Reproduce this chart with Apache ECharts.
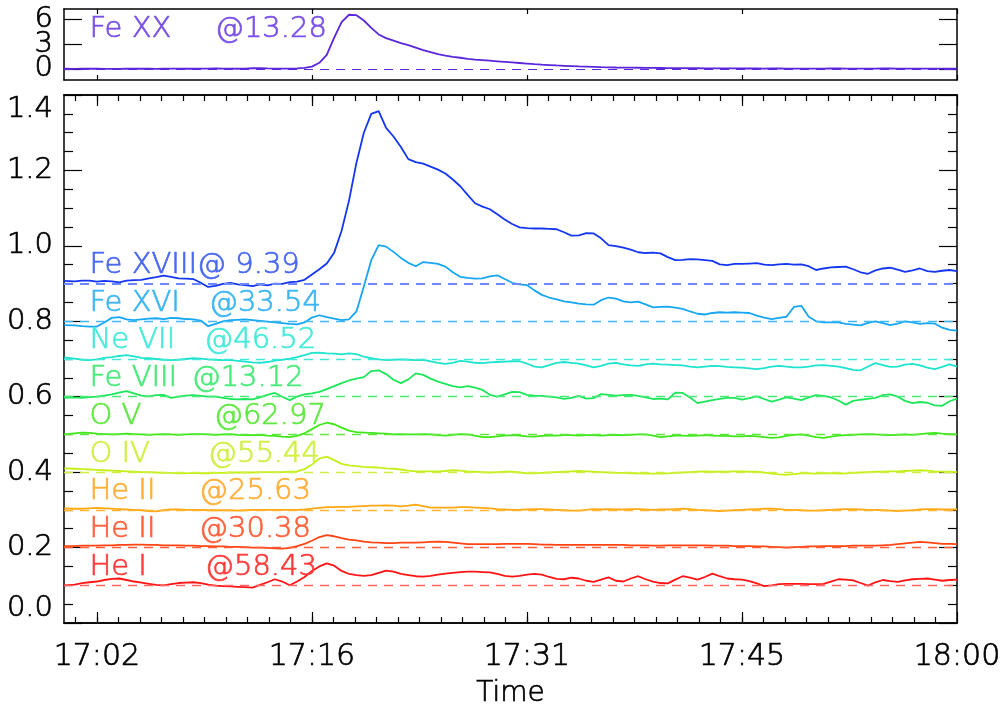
<!DOCTYPE html>
<html>
<head>
<meta charset="utf-8">
<title>EIS line light curves</title>
<script src="https://cdn.jsdelivr.net/npm/echarts@6/dist/echarts.min.js"></script>
<style>
  html, body { margin: 0; padding: 0; background: #fff; }
  #main { width: 1003px; height: 708px; }
</style>
</head>
<body>
<div id="main"></div>
<script>
// minutes after 17:00
const times = [-0.2,0.5,1,1.5,2,2.5,3,3.5,4,4.5,5,5.5,6,6.5,7,7.5,8,8.5,9,9.5,10,10.5,11,11.5,12,12.5,13,13.5,14,14.5,
  15,15.5,16,16.5,17,17.5,18,18.5,19,19.5,20,20.5,21,21.5,22,22.5,23,23.5,24,24.5,25,25.5,26,26.5,27,27.5,28,28.5,29,29.5,
  30,30.5,31,31.5,32,32.5,33,33.5,34,34.5,35,35.5,36,36.5,37,37.5,38,38.5,39,39.5,40,40.5,41,41.5,42,42.5,43,43.5,44,44.5,
  45,45.5,46,46.5,47,47.5,48,48.5,49,49.5,50,50.5,51,51.5,52,52.5,53,53.5,54,54.5,55,55.5,56,56.5,57,57.5,58,58.5,59,59.5,60];

// top panel
const feXX = [0.02,0.01,0.02,0.03,0.02,0.01,0.0,0.01,0.02,0.02, 0.03,0.02,0.01,0.02,0.03,0.03,0.02,0.02,0.03,0.04,
  0.05,0.04,0.03,0.02,0.04,0.08,0.1,0.06,0.03,0.03, 0.04,0.06,0.12,0.28,0.75,1.7,3.8,5.7,6.6,6.55,
  5.9,5.0,4.2,3.75,3.45,3.15,2.9,2.6,2.3,2.05, 1.8,1.62,1.48,1.36,1.22,1.13,1.07,1.0,0.93,0.86,
  0.79,0.72,0.65,0.58,0.52,0.47,0.42,0.38,0.34,0.3, 0.27,0.24,0.21,0.19,0.17,0.16,0.15,0.14,0.13,0.12,
  0.11,0.1,0.1,0.09,0.08,0.08,0.07,0.07,0.06,0.06, 0.06,0.05,0.05,0.05,0.04,0.05,0.05,0.04,0.04,0.03,
  0.03,0.04,0.04,0.05,0.05,0.04,0.03,0.03,0.04,0.04, 0.05,0.05,0.04,0.03,0.03,0.04,0.04,0.03,0.03,0.02,0.02];

// main panel, each offset onto its own baseline
const feXVIII = [.907,.906,.908,.908,.905,.907,.906,.903,.908,.909, .910,.914,.917,.921,.918,.914,.913,.912,.902,.891,
  .894,.899,.902,.898,.896,.893,.898,.895,.900,.899, .904,.905,.910,.924,.938,.953,.982,1.04,1.12,1.22,
  1.30,1.35,1.357,1.313,1.29,1.262,1.23,1.222,1.218,1.21, 1.202,1.192,1.176,1.158,1.135,1.113,1.104,1.097,1.084,1.07,
  1.058,1.049,1.047,1.046,1.046,1.045,1.044,1.036,1.027,1.028, 1.034,1.033,1.02,1.002,.999,.995,.99,.983,.981,.982,
  .980,.970,.962,.963,.965,.964,.962,.960,.951,.949, .952,.952,.953,.954,.950,.949,.951,.952,.950,.951,
  .946,.936,.940,.943,.944,.945,.938,.930,.926,.935, .940,.942,.937,.931,.935,.940,.933,.931,.934,.936,.933];
const feXVI = [.790,.789,.787,.786,.786,.797,.809,.811,.805,.803, .805,.807,.808,.806,.809,.808,.806,.805,.802,.787,
  .793,.800,.803,.804,.805,.803,.801,.799,.797,.795, .793,.792,.797,.810,.816,.811,.807,.803,.805,.826,
  .892,.962,1.002,.998,.984,.968,.955,.946,.957,.955, .952,.945,.930,.918,.915,.913,.914,.919,.922,.912,
  .902,.898,.896,.882,.870,.863,.858,.853,.850,.847, .845,.844,.856,.863,.860,.853,.850,.852,.845,.837,
  .838,.839,.836,.833,.826,.820,.818,.822,.824,.823, .824,.823,.822,.815,.810,.806,.809,.812,.838,.841,
  .812,.800,.797,.797,.797,.793,.791,.789,.796,.800, .795,.790,.794,.800,.797,.793,.795,.794,.783,.777,.775];
const neVII = [.704,.701,.698,.697,.699,.703,.705,.708,.710,.707, .703,.702,.700,.698,.697,.698,.700,.702,.701,.699,
  .698,.697,.697,.695,.693,.691,.690,.692,.696,.698, .701,.705,.710,.716,.717,.715,.714,.712,.715,.713,
  .706,.702,.699,.697,.698,.699,.698,.697,.698,.694, .690,.687,.690,.695,.693,.690,.689,.691,.692,.693,
  .694,.694,.688,.680,.678,.684,.690,.692,.690,.688, .683,.678,.682,.688,.690,.686,.683,.682,.686,.688,
  .686,.685,.684,.683,.680,.678,.680,.682,.681,.679, .678,.677,.675,.673,.676,.680,.682,.680,.678,.678,
  .680,.683,.684,.682,.680,.676,.671,.670,.680,.689, .684,.679,.680,.685,.687,.683,.677,.673,.679,.686,.680];
const feVIII = [.597,.598,.597,.599,.600,.603,.606,.611,.615,.609, .603,.601,.604,.605,.597,.600,.603,.604,.602,.600,
  .600,.597,.594,.593,.594,.593,.598,.605,.610,.600, .591,.600,.606,.609,.613,.620,.628,.636,.643,.648,
  .652,.668,.670,.660,.645,.636,.646,.662,.658,.648, .640,.634,.628,.625,.628,.624,.618,.605,.600,.606,
  .613,.612,.605,.603,.602,.600,.598,.594,.597,.602, .595,.596,.607,.605,.603,.604,.605,.602,.598,.594,
  .595,.593,.611,.610,.598,.583,.587,.591,.594,.597, .597,.592,.596,.601,.594,.587,.592,.598,.595,.591,
  .598,.604,.602,.598,.590,.579,.589,.592,.594,.597, .604,.606,.600,.589,.583,.586,.584,.577,.576,.588,.595];
const oV = [.500,.503,.505,.504,.502,.501,.500,.501,.502,.501, .500,.499,.500,.501,.500,.499,.500,.501,.501,.500,
  .499,.500,.501,.499,.498,.498,.499,.497,.496,.494, .493,.496,.503,.514,.525,.531,.527,.518,.510,.506,
  .505,.504,.503,.502,.500,.501,.500,.500,.501,.500, .498,.497,.499,.501,.500,.497,.493,.493,.495,.497,
  .498,.497,.495,.494,.496,.497,.497,.498,.498,.497, .498,.498,.497,.498,.499,.498,.499,.500,.500,.497,
  .493,.495,.497,.497,.496,.497,.498,.497,.496,.496, .495,.495,.496,.495,.493,.491,.492,.496,.499,.500,
  .497,.493,.491,.494,.497,.498,.499,.500,.501,.500, .499,.498,.499,.500,.499,.501,.503,.504,.502,.501,.500];
const oIV = [.410,.409,.408,.407,.406,.405,.404,.403,.402,.401, .400,.400,.399,.398,.398,.397,.397,.398,.397,.397,
  .398,.398,.399,.399,.399,.399,.400,.400,.400,.400, .401,.402,.408,.420,.436,.441,.432,.422,.418,.416,
  .414,.413,.412,.410,.409,.407,.404,.402,.402,.402, .402,.403,.405,.404,.402,.401,.400,.399,.400,.401,
  .401,.399,.397,.397,.398,.399,.400,.401,.402,.403, .402,.401,.400,.399,.398,.398,.397,.397,.396,.396,
  .396,.397,.398,.399,.400,.401,.402,.401,.401,.401, .402,.402,.401,.401,.399,.396,.394,.393,.395,.397,
  .397,.396,.397,.397,.396,.397,.398,.399,.400,.401, .401,.402,.402,.403,.404,.405,.404,.402,.401,.401,.400];
const heII256 = [.304,.303,.303,.304,.305,.304,.303,.302,.301,.300, .299,.297,.296,.299,.301,.301,.300,.300,.300,.299,
  .299,.299,.299,.298,.299,.300,.300,.300,.300,.300, .300,.300,.301,.303,.305,.307,.307,.308,.308,.309,
  .310,.311,.311,.312,.311,.309,.311,.314,.310,.306, .306,.306,.306,.307,.307,.306,.305,.304,.302,.301,
  .300,.300,.301,.302,.302,.301,.300,.299,.298,.298, .300,.302,.301,.302,.301,.301,.302,.302,.301,.300,
  .301,.301,.302,.303,.302,.300,.299,.298,.297,.298, .299,.300,.301,.302,.303,.303,.302,.300,.300,.299,
  .298,.298,.299,.300,.301,.302,.302,.301,.300,.300, .299,.298,.297,.298,.299,.301,.302,.302,.301,.301,.301];
const heII304 = [.204,.204,.205,.205,.205,.206,.206,.207,.207,.208, .208,.207,.207,.206,.206,.206,.205,.205,.204,.204,
  .203,.203,.202,.202,.201,.200,.200,.199,.198,.197, .199,.204,.210,.218,.228,.233,.230,.225,.221,.219,
  .216,.214,.213,.212,.212,.213,.213,.213,.214,.215, .216,.215,.213,.211,.209,.209,.209,.209,.209,.210,
  .210,.210,.210,.209,.208,.208,.207,.207,.207,.207, .207,.207,.207,.207,.207,.207,.206,.206,.206,.205,
  .205,.206,.206,.206,.206,.206,.206,.205,.205,.205, .204,.204,.204,.203,.203,.202,.201,.200,.201,.202,
  .203,.203,.204,.204,.204,.204,.205,.205,.205,.205, .206,.207,.209,.211,.213,.215,.214,.212,.210,.210,.209];
const heI = [.100,.102,.106,.108,.110,.114,.117,.118,.114,.110, .107,.104,.101,.100,.103,.106,.107,.108,.106,.102,
  .099,.098,.097,.096,.095,.094,.101,.108,.116,.110, .100,.110,.122,.138,.150,.158,.152,.138,.130,.127,
  .125,.127,.133,.139,.136,.130,.127,.124,.123,.125, .128,.131,.133,.135,.136,.136,.135,.134,.130,.125,
  .123,.125,.128,.130,.128,.122,.117,.116,.120,.118, .112,.109,.115,.121,.112,.110,.118,.124,.116,.110,
  .106,.105,.115,.124,.120,.115,.122,.131,.124,.118, .116,.115,.111,.105,.098,.100,.103,.104,.104,.104,
  .103,.103,.104,.110,.116,.115,.113,.106,.099,.108, .114,.111,.109,.113,.116,.117,.118,.115,.112,.114,.115];

const lineNames = ['Fe XVIII', 'Fe XVI', 'Ne VII', 'Fe VIII', 'O V', 'O IV', 'He II', 'He II', 'He I'];
const lineWaves = [9.39, 33.54, 46.52, 13.12, 62.97, 55.44, 25.63, 30.38, 58.43];
const baselines = [0.9, 0.8, 0.7, 0.6, 0.5, 0.4, 0.3, 0.2, 0.1];
const mainSeries = [feXVIII, feXVI, neVII, feVIII, oV, oIV, heII256, heII304, heI];
const topName = 'Fe XX';
const topWave = 13.28;

const xTickValues = [2, 16.5, 31, 45.5, 60];
const xTickLabels = ['17:02', '17:16', '17:31', '17:45', '18:00'];
const topTickValues = [0, 3, 6];

// styles
const lineColors = ['#1436f0', '#16a6f2', '#1ee3cf', '#1ee65a', '#3ee61a', '#c4f01a', '#ffa812', '#ff4412', '#ff1414'];
const textColors = ['#4a68f2', '#3cb6f2', '#48eada', '#4cea7c', '#62e844', '#d0f048', '#ffb03a', '#ff623e', '#ff3c3c'];
const dashColors = ['#6c88ff', '#40b8f4', '#40e8d6', '#48ea78', '#5ee83c', '#cef040', '#ffb434', '#ff5e38', '#ff6464'];
const topColor = '#5b26db';
const topText = '#7a50e6';
const FONT = '"DejaVu Sans"';
const XMIN = -0.22, XMAX = 60;

const minorTicks = [];
for (let v = xTickValues[0] - 1.45; v < XMAX; v += 1.45) minorTicks.push(+v.toFixed(3));

// names padded to 8 characters like the original a8 format
function label(name, wave) {
  return name.padEnd(8, '\u2002') + '@' + wave.toFixed(2).padStart(5, ' ');
}

// thin font, thickened a little with a same-coloured outline
function font(color, size) {
  return { color: color, fontSize: size, fontFamily: FONT, fontWeight: 200,
    textBorderColor: color, textBorderWidth: 0.7 };
}

const axisLine = { show: true, onZero: false, lineStyle: { color: '#000', width: 1.5 } };
const tickLine = { color: '#000', width: 1.2 };
function xAx(grid, pos, ticks, len, extra) {
  return Object.assign({
    type: 'value', gridIndex: grid, position: pos, min: XMIN, max: XMAX,
    axisLine: axisLine,
    axisTick: { inside: true, length: len, customValues: ticks, lineStyle: tickLine },
    axisLabel: { show: false },
    splitLine: { show: false }
  }, extra || {});
}

function textLabel(color, text) {
  return Object.assign({
    show: true, position: 'inside', align: 'left', verticalAlign: 'middle', formatter: () => text
  }, font(color, 29));
}

const series = [];
series.push({
  type: 'line', xAxisIndex: 0, yAxisIndex: 0, showSymbol: false, symbol: 'none',
  data: times.map((t, i) => [t, feXX[i]]),
  lineStyle: { color: topColor, width: 1.8 },
  markLine: {
    silent: true, symbol: 'none', label: { show: false },
    lineStyle: { color: topColor, type: [9, 7], width: 1.2 },
    data: [{ yAxis: 0 }]
  },
  markPoint: {
    symbol: 'circle', symbolSize: 1, silent: true, itemStyle: { color: 'rgba(0,0,0,0)' },
    label: textLabel(topText, label(topName, topWave)),
    data: [{ coord: [1.5, 4.8] }]
  }
});
mainSeries.forEach((vals, k) => {
  series.push({
    type: 'line', xAxisIndex: 1, yAxisIndex: 2, showSymbol: false, symbol: 'none',
    data: times.map((t, i) => [t, vals[i]]),
    lineStyle: { color: lineColors[k], width: 1.8 },
    markLine: {
      silent: true, symbol: 'none', label: { show: false },
      lineStyle: { color: dashColors[k], type: [9, 7], width: k === 0 ? 2 : 1.4, opacity: 1 },
      data: [{ yAxis: baselines[k] }]
    },
    markPoint: {
      symbol: 'circle', symbolSize: 1, silent: true, itemStyle: { color: 'rgba(0,0,0,0)' },
      label: textLabel(textColors[k], label(lineNames[k], lineWaves[k])),
      data: [{ coord: [1.5, baselines[k] + 0.048] }]
    }
  });
});

const tickFont = font('#000', 29);
const topY = (pos, labels, extra) => Object.assign({
  type: 'value', gridIndex: 0, position: pos, min: -1.35, max: 7.3,
  axisLine: axisLine,
  axisTick: { inside: true, length: 18, customValues: topTickValues, lineStyle: tickLine },
  axisLabel: labels ? Object.assign({ customValues: labels, margin: 11 }, tickFont) : { show: false },
  splitLine: { show: false }
}, extra || {});

const chart = echarts.init(document.getElementById('main'), null, { renderer: 'canvas' });
chart.setOption({
  animation: false,
  backgroundColor: '#fff',
  textStyle: { fontFamily: FONT },
  grid: [
    { left: 64, right: 46, top: 9, height: 71, outerBoundsMode: 'none' },
    { left: 64, right: 46, top: 95, bottom: 85, outerBoundsMode: 'none' }
  ],
  xAxis: [
    xAx(0, 'bottom', xTickValues, 5),
    xAx(1, 'bottom', xTickValues, 11, {
      axisLabel: Object.assign({ show: true, customValues: xTickValues, margin: 19,
        formatter: v => xTickLabels[xTickValues.indexOf(v)] }, font('#000', 30)),
      name: 'Time', nameLocation: 'middle', nameGap: 57,
      nameTextStyle: font('#000', 28)
    }),
    xAx(1, 'bottom', minorTicks, 6),
    xAx(1, 'top', xTickValues, 11),
    xAx(1, 'top', minorTicks, 6),
    xAx(0, 'top', xTickValues, 5)
  ],
  yAxis: [
    topY('left', [topTickValues[0], topTickValues[2]]),
    topY('right', null),
    { type: 'value', gridIndex: 1, position: 'left', min: 0, max: 1.4, interval: 0.2,
      axisLine: axisLine,
      axisTick: { inside: true, length: 18, lineStyle: tickLine },
      minorTick: { show: true, splitNumber: 4, length: 9, lineStyle: tickLine },
      axisLabel: Object.assign({ margin: 11, formatter: v => v.toFixed(1),
        verticalAlignMinLabel: 'bottom', verticalAlignMaxLabel: 'top' }, tickFont),
      splitLine: { show: false } },
    { type: 'value', gridIndex: 1, position: 'right', min: 0, max: 1.4, interval: 0.2,
      axisLine: axisLine,
      axisTick: { inside: true, length: 18, lineStyle: tickLine },
      minorTick: { show: true, splitNumber: 4, length: 9, lineStyle: tickLine },
      axisLabel: { show: false }, splitLine: { show: false } },
    // middle label of the top panel on its own axis so it is not dropped as overlapping
    topY('left', [topTickValues[1]], { axisLine: { show: false, onZero: false }, axisTick: { show: false } })
  ],
  series: series
});
</script>
</body>
</html>
